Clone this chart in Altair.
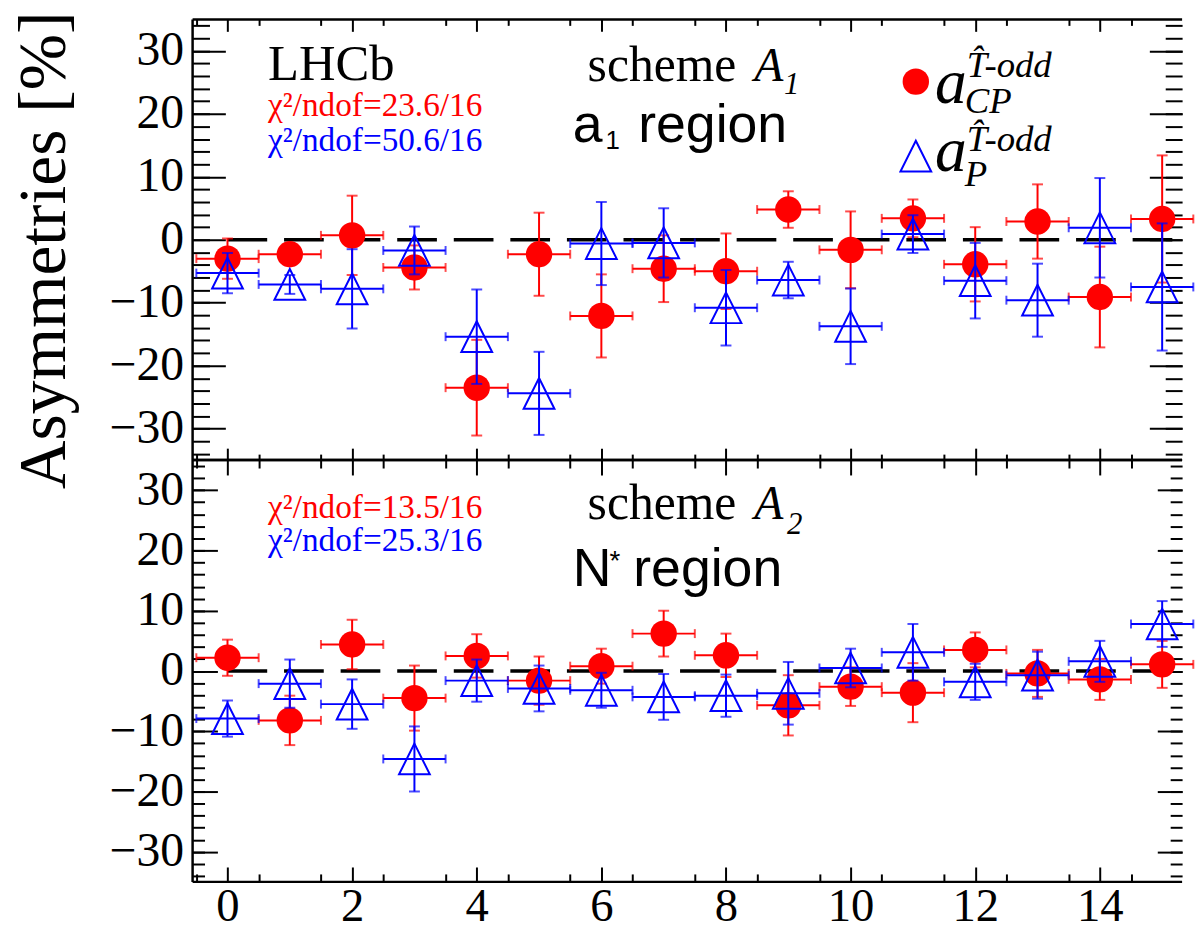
import altair as alt
import pandas as pd

# ---------------- data ----------------
bins = list(range(16))

cp_a1 = [-3.0, -2.3, 0.7, -4.4, -23.5, -2.3, -12.1, -4.6, -5.0, 4.8, -1.6, 3.4, -3.9, 2.9, -9.1, 3.3]
cp_a1_err = [3.2, 1.5, 6.3, 3.5, 7.6, 6.6, 6.6, 5.3, 6.0, 2.9, 6.1, 3.0, 5.9, 5.9, 8.0, 10.1]
p_a1 = [-5.3, -7.1, -7.8, -1.7, -15.4, -24.4, -0.6, -0.5, -10.8, -6.4, -13.75, 0.9, -6.5, -9.6, 1.9, -7.5]
p_a1_err = [3.2, 1.5, 6.3, 3.8, 7.5, 6.6, 6.6, 5.5, 6.0, 2.9, 6.0, 3.0, 6.0, 5.8, 7.9, 10.1]

cp_a2 = [2.2, -8.2, 4.4, -4.5, 2.5, -1.6, 0.8, 6.2, 2.6, -5.7, -2.6, -3.6, 3.5, -0.4, -1.4, 1.1]
cp_a2_err = [3.0, 4.1, 4.1, 5.4, 3.6, 4.0, 2.9, 3.8, 3.6, 5.0, 3.2, 4.9, 2.9, 3.9, 3.4, 3.9]
p_a2 = [-7.9, -2.1, -5.5, -14.6, -1.6, -2.9, -3.2, -4.3, -4.1, -3.7, 0.5, 3.1, -1.8, -0.7, 1.6, 7.8]
p_a2_err = [3.0, 4.0, 4.1, 5.4, 3.5, 3.8, 2.9, 3.8, 3.5, 5.2, 3.2, 4.7, 3.0, 3.9, 3.4, 3.8]

y_major = [-30, -20, -10, 0, 10, 20, 30]
y_minor = list(range(-34, 35, 2))
x_major = [0, 2, 4, 6, 8, 10, 12, 14]
x_minor = [i * 0.5 for i in range(-1, 31)]

y_title = "Asymmetries [%]"
chi2_a1 = ["χ²/ndof=23.6/16", "χ²/ndof=50.6/16"]
chi2_a2 = ["χ²/ndof=13.5/16", "χ²/ndof=25.3/16"]

# ---------------- style ----------------
SERIF = "Liberation Serif"
SANS = "Liberation Sans"
RED = "#ff0000"
BLUE = "#0000ff"
XDOM = [-0.56, 15.32]
YDOM = [-35, 35]
W = 997
H_TOP = 444
H_BOT = 425
TRI = "M0,-1L1,1L-1,1Z"

xs = alt.Scale(domain=XDOM, nice=False, zero=False)
ys = alt.Scale(domain=YDOM, nice=False, zero=False)
ONE = alt.Data(values=[{}])


def axis(orient, values, length, labels=False, pad=8, size=48):
    return alt.Axis(orient=orient, values=values, tickSize=length, offset=-length,
                    domain=False, grid=False, labels=labels, ticks=True,
                    tickColor="black", tickWidth=2, title=None,
                    labelFont=SERIF, labelFontSize=size, labelColor="black",
                    labelPadding=pad, labelFlush=False, labelOverlap=False,
                    format="d")


def txt(s, x, y, font, size, color="black", italic=False, align="left", angle=None):
    kw = dict(text=s, font=font, fontSize=size, color=color, align=align,
              baseline="alphabetic")
    if italic:
        kw["fontStyle"] = "italic"
    if angle is not None:
        kw["angle"] = angle
    return alt.Chart(ONE).mark_text(**kw).encode(x=alt.value(x), y=alt.value(y))


def anchor(y):
    return alt.Chart(ONE).mark_rect(opacity=0).encode(
        x=alt.value(-186), x2=alt.value(-185), y=alt.value(y), y2=alt.value(y + 1))


def frame(h):
    line = alt.Chart(ONE).mark_rule(color="black", strokeWidth=2.5)
    return [
        line.encode(x=alt.value(0), y=alt.value(0), y2=alt.value(h)),
        line.encode(x=alt.value(0), x2=alt.value(W), y=alt.value(0)),
        line.encode(x=alt.value(0), x2=alt.value(W), y=alt.value(h)),
    ]


def series(base, v, lo, hi, color, ax_h, ax_v, marker):
    Xq = lambda f, ax=None: alt.X(f, type="quantitative", scale=xs, axis=ax)
    Yq = lambda f, ax=None: alt.Y(f, type="quantitative", scale=ys, axis=ax)
    hbar = base.mark_rule(color=color, strokeWidth=2).encode(
        x=Xq("xlo", ax_h[0]), x2="xhi:Q", y=Yq(v, ax_h[1]))
    hcap = base.transform_fold(["xlo", "xhi"], as_=["k", "xv"]).mark_tick(
        orient="vertical", size=9, thickness=2, color=color).encode(
        x=Xq("xv"), y=Yq(v))
    vbar = base.mark_rule(color=color, strokeWidth=2).encode(
        x=Xq("bin", ax_v[0]), y=Yq(lo, ax_v[1]), y2=alt.Y2(hi))
    vcap = base.transform_fold([lo, hi], as_=["k", "yv"]).mark_tick(
        orient="horizontal", size=11, thickness=2, color=color).encode(
        x=Xq("bin"), y=Yq("yv"))
    pts = base.mark_point(opacity=1, **marker).encode(x=Xq("bin"), y=Yq(v))
    return [hbar, hcap, vbar, vcap, pts]


def panel(cp, cp_err, p, p_err, h, ylen, xlen, xlabels, extra):
    df = pd.DataFrame({"bin": bins, "cp": cp, "cp_err": cp_err, "p": p, "p_err": p_err})
    base = alt.Chart(df).transform_calculate(
        xlo="datum.bin - 0.5", xhi="datum.bin + 0.5",
        cplo="datum.cp - datum.cp_err", cphi="datum.cp + datum.cp_err",
        plo="datum.p - datum.p_err", phi="datum.p + datum.p_err")
    zero = alt.Chart(alt.Data(values=[{"a": 0, "b": 15.6, "y": 0}])).mark_rule(
        color="black", strokeWidth=3.5, strokeDash=[40, 17], clip=True).encode(
        x=alt.X("a:Q", scale=xs, axis=None), x2="b:Q",
        y=alt.Y("y:Q", scale=ys, axis=None))
    red = series(base, "cp", "cplo", "cphi", RED,
                 (axis("bottom", x_major, xlen[0], labels=xlabels, pad=2, size=47),
                  axis("left", y_major, ylen[0], labels=True, pad=9)),
                 (axis("bottom", x_minor, xlen[1]), axis("left", y_minor, ylen[1])),
                 dict(shape="circle", filled=True, size=707, color=RED, strokeWidth=0))
    blue = series(base, "p", "plo", "phi", BLUE,
                  (axis("top", x_major, xlen[0]), axis("right", y_major, ylen[0])),
                  (axis("top", x_minor, xlen[1]), axis("right", y_minor, ylen[1])),
                  dict(shape=TRI, filled=False, size=961, color=BLUE, strokeWidth=2))
    layers = [zero] + red + blue + frame(h) + extra
    return alt.layer(*layers).resolve_axis(x="independent", y="independent").properties(
        width=W, height=h)


top_extra = [
    anchor(-8),
    txt(y_title, -129, -8, SERIF, 68, align="right", angle=270),
    txt("LHCb", 76, 61, SERIF, 51),
    txt(chi2_a1[0], 76, 97, SERIF, 33.5, color=RED),
    txt(chi2_a1[1], 76, 133, SERIF, 33.5, color=BLUE),
    txt("scheme", 398, 62, SERIF, 50),
    txt("A", 566, 62, SERIF, 48, italic=True),
    txt("1", 596, 75, SERIF, 31, italic=True),
    txt("a", 383, 124, SANS, 54),
    txt("1", 416, 131, SANS, 26),
    txt("region", 449, 124, SANS, 54),
    alt.Chart(ONE).mark_point(shape="circle", filled=True, size=707, color=RED,
                              opacity=1, strokeWidth=0).encode(
        x=alt.value(728.7), y=alt.value(62.7)),
    txt("a", 748, 84, SERIF, 64, italic=True),
    txt("T\u0302-odd", 780, 58, SERIF, 37, italic=True),
    txt("CP", 778, 94, SERIF, 37, italic=True),
    alt.Chart(ONE).mark_point(shape=TRI, filled=False, size=961, color=BLUE,
                              opacity=1, strokeWidth=2).encode(
        x=alt.value(728.7), y=alt.value(137.7)),
    txt("a", 748, 152.7, SERIF, 64, italic=True),
    txt("T\u0302-odd", 780, 132.7, SERIF, 37, italic=True),
    txt("P", 778, 167.7, SERIF, 37, italic=True),
]

bottom_extra = [
    anchor(200),
    txt(chi2_a2[0], 76, 58, SERIF, 33.5, color=RED),
    txt(chi2_a2[1], 76, 92, SERIF, 33.5, color=BLUE),
    txt("scheme", 398, 59, SERIF, 50),
    txt("A", 566, 59, SERIF, 48, italic=True),
    txt("2", 599, 74, SERIF, 31, italic=True),
    txt("N", 383, 127, SANS, 54),
    txt("*", 420, 111, SANS, 28),
    txt("region", 444, 127, SANS, 54),
]

top = panel(cp_a1, cp_a1_err, p_a1, p_a1_err, H_TOP, (33, 17), (12, 6), False, top_extra)
bottom = panel(cp_a2, cp_a2_err, p_a2, p_a2_err, H_BOT, (25, 12), (15, 8), True, bottom_extra)

chart = alt.vconcat(top, bottom, spacing=0, bounds="flush").properties(
    padding=0, background="white"
).configure_view(strokeWidth=0, stroke=None)

chart.save("out.html", embed_options={"renderer": "svg", "actions": False})
